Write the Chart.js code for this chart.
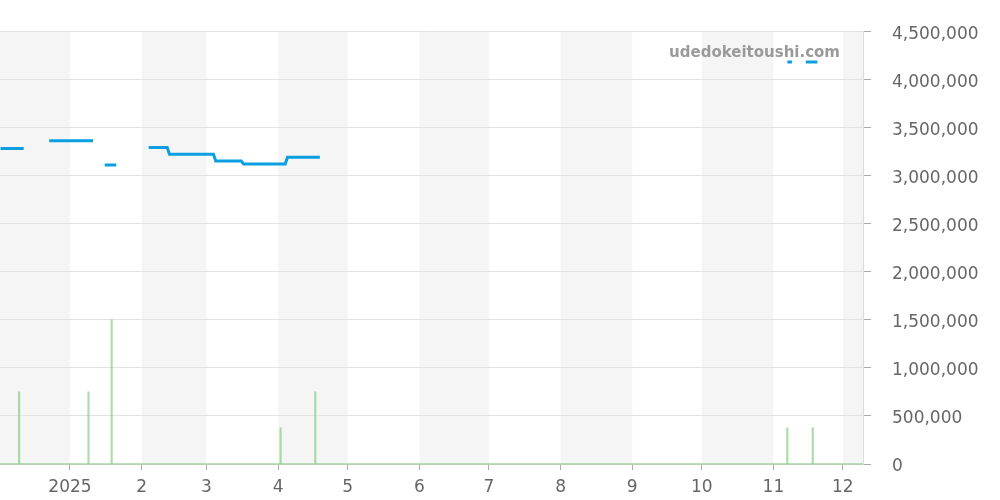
<!DOCTYPE html>
<html>
<head>
<meta charset="utf-8">
<script src="https://cdn.jsdelivr.net/npm/chart.js@4/dist/chart.umd.min.js"></script>
<style>
  html, body { margin:0; padding:0; background:#fff; }
  #wrap { width:1000px; height:500px; position:relative; }
</style>
</head>
<body>
<div id="wrap"><canvas id="chart" width="1000" height="500"></canvas></div>
<script>
// x-axis ticks: first day of each month
const monthStarts = ["2025-01-01","2025-02-01","2025-03-01","2025-04-01","2025-05-01","2025-06-01",
                     "2025-07-01","2025-08-01","2025-09-01","2025-10-01","2025-11-01","2025-12-01"];
const monthLabels = ["2025","2","3","4","5","6","7","8","9","10","11","12"];
// shaded month bands [start, end)
const bandStarts = ["2024-12-01","2025-02-01","2025-04-01","2025-06-01","2025-08-01","2025-10-01","2025-12-01"];
const bandEnds   = ["2025-01-01","2025-03-01","2025-05-01","2025-07-01","2025-09-01","2025-11-01","2026-01-01"];

// price line (null = gap)
const priceDates = ["2024-12-02","2024-12-12","2024-12-17",
                    "2024-12-23","2025-01-11","2025-01-13",
                    "2025-01-16","2025-01-21","2025-01-28",
                    "2025-02-04","2025-02-12","2025-02-13","2025-03-04","2025-03-05","2025-03-16","2025-03-17",
                    "2025-04-04","2025-04-05","2025-04-19","2025-04-25",
                    "2025-11-07","2025-11-09","2025-11-12",
                    "2025-11-15","2025-11-20"];
const priceValues = [3280000,3280000,null,
                     3360000,3360000,null,
                     3110000,3110000,null,
                     3290000,3290000,3220000,3220000,3150000,3150000,3120000,
                     3120000,3190000,3190000,null,
                     4180000,4180000,null,
                     4180000,4180000];

// volume bars
const volumeDates  = ["2024-12-10","2025-01-09","2025-01-19","2025-04-02","2025-04-17","2025-11-07","2025-11-18"];
const volumeValues = [750000,750000,1500000,375000,750000,375000,375000];

const X_MIN = "2024-12-01T18:00:00";
const X_MAX = "2025-12-09T17:00:00";

const BASE = Date.UTC(2025,0,1);
function dayNum(s){
  const p = s.split("T");
  const d = p[0].split("-").map(Number);
  let t = Date.UTC(d[0], d[1]-1, d[2]);
  if(p[1]){ const h = p[1].split(":").map(Number); t += (h[0]*60+h[1])*60000; }
  return (t - BASE)/86400000;
}

const FONT = "'DejaVu Sans', sans-serif";

const bandPlugin = {
  id: "bands",
  beforeDraw(chart){
    const {ctx, chartArea:a, scales:{x}} = chart;
    ctx.save();
    ctx.fillStyle = "#f5f5f5";
    bandStarts.forEach((s,i)=>{
      const l = Math.max(x.getPixelForValue(dayNum(s)), a.left);
      const r = Math.min(x.getPixelForValue(dayNum(bandEnds[i])), a.right);
      if(r > l) ctx.fillRect(l, a.top, r-l, a.bottom-a.top);
    });
    ctx.restore();
  },
  afterDraw(chart){
    const {ctx} = chart;
    ctx.save();
    ctx.font = "bold 15px " + FONT;
    ctx.fillStyle = "#9a9a9a";
    ctx.textAlign = "right";
    ctx.textBaseline = "middle";
    ctx.fillText("udedokeitoushi.com", 840, 53);
    ctx.restore();
  }
};

new Chart(document.getElementById("chart"), {
  type: "bar",
  data: {
    datasets: [
      {
        type: "line",
        data: priceDates.map((d,i)=>({x: dayNum(d), y: priceValues[i]})),
        borderColor: "#0b9fe2",
        borderWidth: 3,
        pointRadius: 0,
        spanGaps: false,
        tension: 0,
        order: 0
      },
      {
        type: "bar",
        data: volumeDates.map((d,i)=>({x: dayNum(d), y: volumeValues[i]})),
        backgroundColor: "rgba(110,200,110,0.6)",
        barThickness: 1.5,
        order: 1
      }
    ]
  },
  options: {
    responsive: false,
    animation: false,
    layout: { padding: { top: 30, left: 0, right: 0, bottom: 0 } },
    plugins: { legend: { display: false }, tooltip: { enabled: false } },
    scales: {
      x: {
        type: "linear",
        offset: false,
        min: dayNum(X_MIN),
        max: dayNum(X_MAX),
        grid: { offset: false, drawOnChartArea: false, drawTicks: true, tickLength: 6, tickColor: "#aaa" },
        border: { display: true, color: "rgba(140,205,140,0.6)", dash: [2,1], width: 2 },
        afterBuildTicks(scale){ scale.ticks = monthStarts.map(d=>({value: dayNum(d)})); },
        afterFit(scale){ scale.height = 36; },
        ticks: {
          autoSkip: false, maxRotation: 0, padding: 7,
          color: "#666", font: { family: FONT, size: 17 },
          callback: (v, i) => monthLabels[i]
        }
      },
      y: {
        position: "right",
        min: 0, max: 4500000,
        grid: { color: "#e2e2e2", tickLength: 8, tickColor: "#aaa" },
        border: { display: true, color: "#ddd" },
        afterFit(scale){ scale.width = 137; },
        ticks: {
          stepSize: 500000, padding: 21, labelOffset: 3,
          color: "#666", font: { family: FONT, size: 17 }
        }
      }
    }
  },
  plugins: [bandPlugin]
});
</script>
</body>
</html>
